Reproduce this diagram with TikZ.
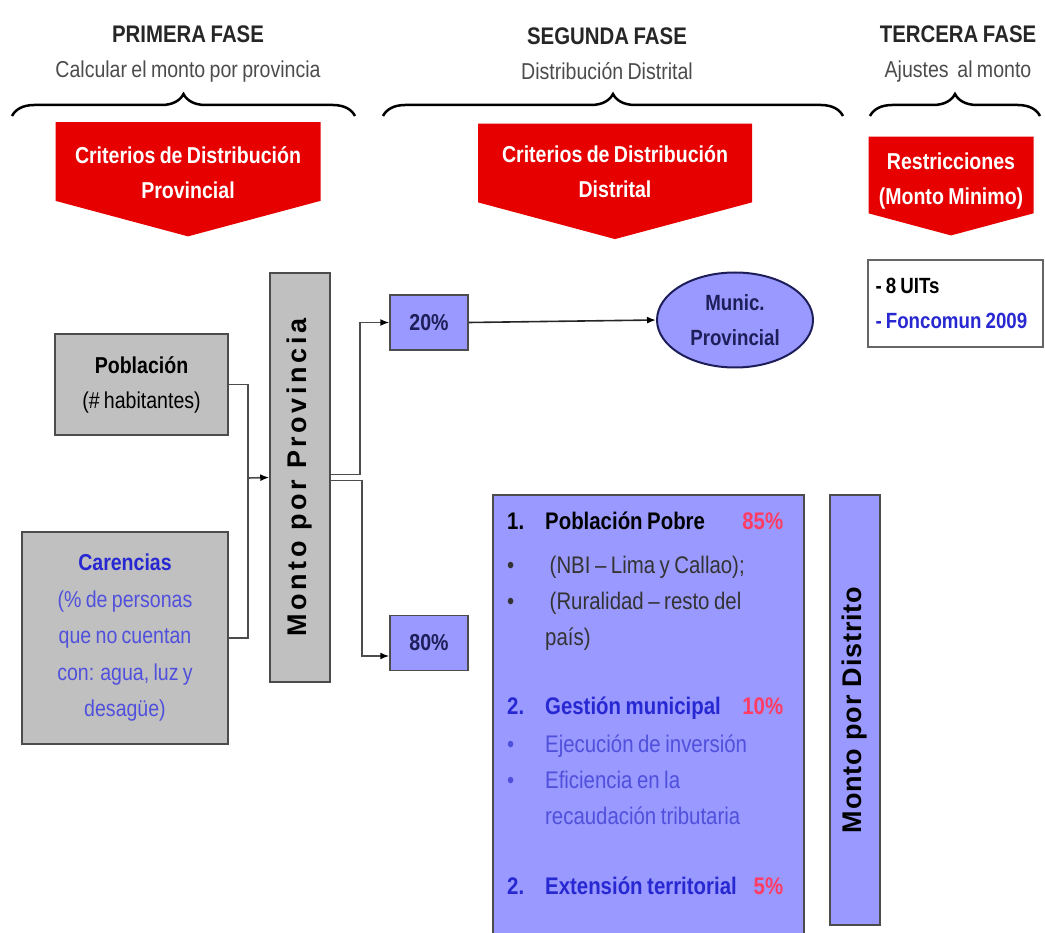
\documentclass[tikz,border=0pt]{standalone}
\usepackage{fontspec}
\setmainfont{Liberation Sans}[FakeStretch=0.85, WordSpace=0.8]
\newfontfamily\rotfont{Liberation Sans}[LetterSpace=3]
\newfontfamily\spacedfont{Liberation Sans}[LetterSpace=13]
\usepackage{tikz}
\usetikzlibrary{shapes.geometric, shapes.symbols, arrows.meta, calc, positioning, decorations.pathreplacing}
\definecolor{rojoflecha}{RGB}{230,0,0}
\definecolor{grisbox}{RGB}{192,192,192}
\definecolor{azulbox}{RGB}{153,153,255}
\definecolor{azultexto}{RGB}{40,40,210}
\definecolor{azulclaro}{RGB}{80,80,220}
\definecolor{rojopct}{RGB}{255,60,100}
\definecolor{marino}{RGB}{30,30,90}

\begin{document}
\begin{tikzpicture}[x=1pt, y=-1pt, >={Latex[length=9pt, width=7pt, color=black]}, every node/.style={font=\fontsize{23}{35}\selectfont}]
\useasboundingbox (0,0) rectangle (1045,933);
\clip (0,0) rectangle (1045,933);
% Define styles
\tikzstyle{fase} = [align=center, inner sep=0pt, text=black!85]
\tikzstyle{criterio} = [signal, signal to=south, signal pointer angle=150, fill=rojoflecha, text=white, align=center, inner sep=0pt, font=\fontsize{23}{35}\selectfont\bfseries]
\tikzstyle{llave} = [decorate, decoration={brace, amplitude=22pt}, line width=2.5pt]
\tikzstyle{factor} = [rectangle, draw=black!70, line width=1.5pt, fill=grisbox, align=center]
\tikzstyle{porcentaje} = [rectangle, draw=black!70, line width=1.5pt, fill=azulbox, minimum width=78, minimum height=55, text=marino, font=\fontsize{23}{35}\selectfont\bfseries]
\tikzstyle{monto} = [rectangle, draw=black!70, line width=1.5pt, rotate=90, font=\fontsize{27}{30}\rotfont\bfseries]
\tikzstyle{linea} = [draw=black!70, line width=1.6pt]
\tikzstyle{arrow} = [linea, ->]
% Place nodes
\node (fase1) [fase] at (188,54) {\fontsize{24}{38}\selectfont\bfseries PRIMERA FASE\\ \color{black!70}Calcular el monto por provincia};
\node (fase2) [fase] at (607,54) {\fontsize{24}{38}\selectfont\bfseries SEGUNDA FASE\\ \color{black!70}Distribución Distrital};
\node (fase3) [fase] at (958,54) {\fontsize{24}{38}\selectfont\bfseries TERCERA FASE\\ \color{black!70}Ajustes\ \ al monto};
\node (crit1) [criterio, minimum width=265, minimum height=109] at (188,161.5) {\rule{0pt}{39pt}Criterios de Distribución\\Provincial};
\node (crit2) [criterio, minimum width=274, minimum height=109] at (615,163) {\rule{0pt}{35pt}Criterios de Distribución\\Distrital};
\node (crit3) [criterio, minimum width=165, minimum height=96] at (951,175) {\rule{0pt}{29pt}Restricciones\\(Monto Minimo)};
\node (ajuste) [rectangle, draw=black!60, line width=1.2pt, fill=white, minimum width=175, minimum height=87, align=flush left, text width=160, font=\fontsize{22}{35}\selectfont\bfseries] at (955.5,303.5) {-\ 8 UITs\\ \color{azultexto}-\ Foncomun 2009};
\node (pobl) [factor, minimum width=173, minimum height=101] at (141.5,384.5) {\textbf{Población}\\(\# habitantes)};
\node (caren) [factor, minimum width=206, minimum height=212, text=azulclaro, font=\fontsize{23}{36.5}\selectfont] at (125,638) {\textbf{\color{azultexto}Carencias}\\(\% de personas\\que no cuentan\\con: agua, luz y\\desagüe)};
\node (montoprov) [monto, fill=grisbox, minimum width=409, minimum height=60, font=\fontsize{27}{30}\spacedfont\bfseries] at (300,477.5) {Monto por Provincia};
\node (pct20) [porcentaje] at (429,322.5) {20\%};
\node (pct80) [porcentaje] at (429,643) {80\%};
\node (munic) [ellipse, draw=marino, line width=2pt, fill=azulbox, minimum width=156, minimum height=95, align=center, text=marino, font=\fontsize{22}{35}\selectfont\bfseries] at (735,320) {Munic.\\Provincial};
\node (distrib) [rectangle, draw=black!70, line width=1.5pt, fill=azulbox, minimum width=311, minimum height=450] at (648.5,720) {};
\node (distribtext) [anchor=north west, inner sep=0pt, text width=276, align=flush left, font=\fontsize{24}{36}\selectfont] at (507,512) {%
\makebox[38pt][l]{\bfseries 1.}\textbf{Población Pobre}\hfill\textcolor{rojopct}{\bfseries 85\%}\\[8pt]
\color{black!80}\makebox[38pt][l]{•}\ (NBI – Lima y Callao);\\
\makebox[38pt][l]{•}\ (Ruralidad – resto del\\
\makebox[38pt][l]{}país)\\[33pt]
\color{azultexto}\makebox[38pt][l]{\bfseries 2.}\textbf{Gestión municipal}\hfill\textcolor{rojopct}{\bfseries 10\%}\\[2pt]
\color{azulclaro}\makebox[38pt][l]{•}Ejecución de inversión\\
\makebox[38pt][l]{•}Eficiencia en la\\
\makebox[38pt][l]{}recaudación tributaria\\[34pt]
\color{azultexto}\makebox[38pt][l]{\bfseries 2.}\textbf{Extensión territorial}\hfill\textcolor{rojopct}{\bfseries 5\%}};
\node (montodist) [monto, fill=azulbox, minimum width=430, minimum height=50] at (855,710) {Monto por Distrito};
\coordinate (junta) at (248,478);
% Draw braces
\draw [llave] (12,116) -- (355,116);
\draw [llave] (383,116) -- (843,116);
\draw [llave] (870,116) -- (1040,116);
% Draw arrows
\draw [linea] (pobl.east) -| (junta) |- (caren.east);
\draw [arrow] (junta) -- (montoprov.north);
\draw [arrow] ($(montoprov.south)+(0,-3)$) -- ++(29,0) |- (pct20.west);
\draw [arrow] ($(montoprov.south)+(0,3)$) -- ++(31,0) |- ($(pct80.west)+(0,13)$);
\draw [arrow, draw=black!85] (pct20.east) -- (munic.west);
\end{tikzpicture}
\end{document}
